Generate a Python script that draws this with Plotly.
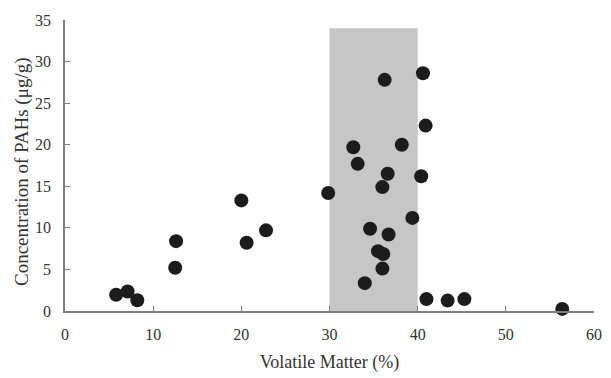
import plotly.graph_objects as go

volatile_matter = [5.8, 7.1, 8.2, 12.5, 12.6, 20.0, 20.6, 22.8, 29.85,
                   32.7, 33.2, 34.0, 34.6, 35.5, 36.0, 36.0, 36.1, 36.26, 36.6, 36.7,
                   38.2, 39.4, 40.4, 40.6, 40.9, 41.0, 43.4, 45.3, 56.4]
pah_conc = [1.95, 2.35, 1.3, 5.2, 8.4, 13.3, 8.2, 9.7, 14.2,
            19.7, 17.7, 3.35, 9.9, 7.2, 14.9, 5.1, 6.85, 27.8, 16.5, 9.2,
            20.0, 11.2, 16.2, 28.6, 22.3, 1.43, 1.25, 1.43, 0.25]

band_x = [30, 40]
band_y = [0, 34]

x_ticks = [0, 10, 20, 30, 40, 50, 60]
y_ticks = [0, 5, 10, 15, 20, 25, 30, 35]

x_title = "Volatile Matter (%)"
y_title = "Concentration of PAHs (μg/g)"

fig = go.Figure()
fig.add_shape(type="rect", xref="x", yref="y",
              x0=band_x[0], x1=band_x[1], y0=band_y[0], y1=band_y[1],
              fillcolor="#c6c6c6", line=dict(width=0), layer="below")
fig.add_trace(go.Scatter(x=volatile_matter, y=pah_conc, mode="markers",
                         marker=dict(size=14, color="#1c1c1c", line=dict(width=0)),
                         cliponaxis=False, showlegend=False))

font_family = "Liberation Serif, Times New Roman, serif"
txt = "#333333"
fig.update_layout(
    width=611, height=378,
    margin=dict(l=65, r=9, t=20, b=65),
    plot_bgcolor="white", paper_bgcolor="white",
    font=dict(family=font_family, size=16, color=txt),
    xaxis=dict(range=[0, 60], tickvals=x_ticks, showgrid=False, zeroline=False,
               showline=True, linecolor="#7f7f7f", linewidth=1.5,
               ticks="inside", ticklen=5, tickcolor="#7f7f7f",
               ticklabelstandoff=8,
               tickfont=dict(size=16, color=txt),
               title=dict(text=x_title, font=dict(size=18, color=txt), standoff=13)),
    yaxis=dict(range=[0, 35], tickvals=y_ticks, showgrid=False, zeroline=False,
               showline=True, linecolor="#7f7f7f", linewidth=1.5,
               ticks="inside", ticklen=5, tickcolor="#7f7f7f",
               ticklabelstandoff=9,
               tickfont=dict(size=16, color=txt)),
    annotations=[dict(text=y_title, xref="paper", yref="paper",
                      x=-0.08, y=0.48, xanchor="center", yanchor="middle",
                      textangle=-90, showarrow=False,
                      font=dict(size=19, color=txt))],
)

fig.write_html("out.html")
